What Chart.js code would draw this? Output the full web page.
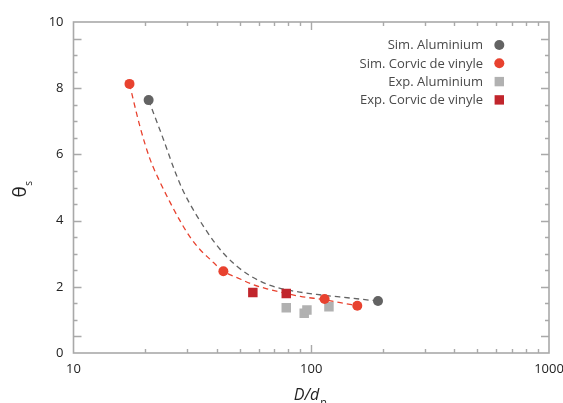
<!DOCTYPE html>
<html><head><meta charset="utf-8">
<script src="https://cdn.jsdelivr.net/npm/chart.js@4.4.1/dist/chart.umd.min.js"></script>
<style>html,body{margin:0;padding:0;background:#fff}#wrap{width:563px;height:403px;position:relative}</style>
</head><body><div id="wrap"><canvas id="c"></canvas></div>
<script>
// ---- data ----
const simAluX = [20.7, 190.9];
const simAluY = [7.64, 1.57];
const simPvcX = [17.2, 42.7, 113.8, 156.2];
const simPvcY = [8.13, 2.47, 1.63, 1.43];
const expAluX = [78.5, 93.4, 95.9, 118.7];
const expAluY = [1.37, 1.20, 1.30, 1.40];
const expPvcX = [56.8, 78.5];
const expPvcY = [1.83, 1.80];
// dashed trend curves
const fitAluX = [20.7, 23.9, 26.8, 29.0, 32.5, 35.8, 39.4, 43.4, 48.7, 55.4, 65.1, 79.0, 105.6, 146, 190.9];
const fitAluY = [7.64, 6.45, 5.46, 4.88, 4.23, 3.75, 3.32, 2.96, 2.62, 2.33, 2.08, 1.91, 1.77, 1.66, 1.57];
const fitPvcX = [17.2, 19.05, 21.0, 23.13, 25.49, 28.08, 30.94, 34.09, 37.55, 42.7, 48.7, 57.2, 65.1, 89.9, 113.8, 132.5, 156.2];
const fitPvcY = [8.13, 6.83, 5.85, 5.16, 4.55, 3.99, 3.50, 3.12, 2.83, 2.47, 2.28, 2.06, 1.94, 1.71, 1.61, 1.52, 1.43];
const seriesLabels = ['Sim. Aluminium', 'Sim. Corvic de vinyle', 'Exp. Aluminium', 'Exp. Corvic de vinyle'];
// axis ticks
const xTickLabels = [10, 100, 1000];
const xMajorMarks = [100];
const xMinorMarks = [20, 30, 40, 50, 60, 70, 80, 90, 200, 300, 400, 500, 600, 700, 800, 900];
const yTickLabels = [0, 2, 4, 6, 8, 10];
const yMajorMarks = [0.5, 2, 4, 6, 8, 9.5];
const yMinorMarks = [1, 1.5, 2.5, 3, 3.5, 4.5, 5, 5.5, 6.5, 7, 7.5, 8.5, 9];

const pts = (xs, ys) => xs.map((x, i) => ({x, y: ys[i]}));
const C_GRAY = '#636363', C_RED = '#e8422f', C_LGRAY = '#b1b1b1', C_DRED = '#c1252c';
const FONT = "'Open Sans', sans-serif";

const frameTicks = {
  id: 'frameTicks',
  afterDatasetsDraw(chart) {
    const {ctx, chartArea: a, scales: {x, y}} = chart;
    ctx.save();
    ctx.strokeStyle = '#a9a9a9';
    ctx.lineWidth = 1.4;
    ctx.beginPath();
    for (const v of xMajorMarks.concat(xMinorMarks)) {
      const len = xMajorMarks.includes(v) ? 8 : 4;
      const px = Math.round(x.getPixelForValue(v)) + 0.5;
      ctx.moveTo(px, a.bottom); ctx.lineTo(px, a.bottom - len);
      ctx.moveTo(px, a.top); ctx.lineTo(px, a.top + len);
    }
    for (const v of yMajorMarks.concat(yMinorMarks)) {
      const len = yMajorMarks.includes(v) ? 8 : 4;
      const py = Math.round(y.getPixelForValue(v)) + 0.5;
      ctx.moveTo(a.left, py); ctx.lineTo(a.left + len, py);
      ctx.moveTo(a.right, py); ctx.lineTo(a.right - len, py);
    }
    ctx.stroke();
    ctx.lineWidth = 1.6;
    ctx.strokeRect(a.left, a.top, a.right - a.left, a.bottom - a.top);
    ctx.restore();
  }
};

const titlesLegend = {
  id: 'titlesLegend',
  afterDraw(chart) {
    const {ctx, chartArea: a, scales: {x}} = chart;
    ctx.save();
    // y title θs
    ctx.fillStyle = '#222';
    ctx.translate(26, 197.5);
    ctx.rotate(-Math.PI / 2);
    ctx.textAlign = 'left';
    ctx.textBaseline = 'alphabetic';
    ctx.font = `19px ${FONT}`;
    ctx.fillText('θ', 0, 0);
    const w = ctx.measureText('θ').width;
    ctx.font = `10px ${FONT}`;
    ctx.fillText('s', w + 0.5, 6);
    ctx.restore();
    // x title D/dn
    ctx.save();
    ctx.fillStyle = '#222';
    ctx.textBaseline = 'alphabetic';
    ctx.textAlign = 'left';
    ctx.font = `italic 16px ${FONT}`;
    const t = 'D/d';
    const tw = ctx.measureText(t).width;
    const sx = x.getPixelForValue(100) - 17.5;
    ctx.fillText(t, sx, 400);
    ctx.font = `11px ${FONT}`;
    ctx.fillText('n', sx + tw + 1, 406);
    ctx.restore();
    // legend
    ctx.save();
    const ds = chart.data.datasets.filter(d => d.inLegend);
    ctx.font = `13px ${FONT}`;
    ctx.textAlign = 'right';
    ctx.textBaseline = 'middle';
    ds.forEach((d, i) => {
      const yy = a.top + 23 + i * 18.3;
      ctx.fillStyle = '#4a4a4a';
      ctx.fillText(d.label, a.right - 66, yy + 0.5);
      ctx.fillStyle = d.backgroundColor;
      const mx = a.right - 49.7;
      if (d.pointStyle === 'rect') {
        ctx.fillRect(mx - 4.7, yy - 4.7, 9.4, 9.4);
      } else {
        ctx.beginPath(); ctx.arc(mx, yy, 5, 0, Math.PI * 2); ctx.fill();
      }
    });
    ctx.restore();
  }
};

new Chart(document.getElementById('c'), {
  type: 'scatter',
  data: {
    datasets: [
      {label: seriesLabels[0], inLegend: true, data: pts(simAluX, simAluY), backgroundColor: C_GRAY, borderColor: C_GRAY, pointStyle: 'circle', pointRadius: 5, pointBorderWidth: 0, order: 1},
      {label: seriesLabels[1], inLegend: true, data: pts(simPvcX, simPvcY), backgroundColor: C_RED, borderColor: C_RED, pointStyle: 'circle', pointRadius: 5, pointBorderWidth: 0, order: 1},
      {label: seriesLabels[2], inLegend: true, data: pts(expAluX, expAluY), backgroundColor: C_LGRAY, borderColor: C_LGRAY, pointStyle: 'rect', pointRadius: 6.7, pointBorderWidth: 0, order: 2},
      {label: seriesLabels[3], inLegend: true, data: pts(expPvcX, expPvcY), backgroundColor: C_DRED, borderColor: C_DRED, pointStyle: 'rect', pointRadius: 6.7, pointBorderWidth: 0, order: 1},
      {label: 'fitAlu', data: pts(fitAluX, fitAluY), showLine: true, borderColor: C_GRAY, borderWidth: 1.3, borderDash: [5.5, 4], pointRadius: 0, cubicInterpolationMode: 'monotone', order: 5},
      {label: 'fitPvc', data: pts(fitPvcX, fitPvcY), showLine: true, borderColor: C_RED, borderWidth: 1.3, borderDash: [5.5, 4], pointRadius: 0, cubicInterpolationMode: 'monotone', order: 5}
    ]
  },
  options: {
    responsive: true,
    maintainAspectRatio: false,
    animation: false,
    events: [],
    layout: {padding: {left: 0, right: 14, top: 22, bottom: 0}},
    plugins: {legend: {display: false}, tooltip: {enabled: false}},
    scales: {
      x: {
        type: 'logarithmic', min: 10, max: 1000,
        afterBuildTicks: s => { s.ticks = xTickLabels.map(v => ({value: v})); },
        afterFit: s => { s.height = 50; s.paddingLeft = 0; s.paddingRight = 0; },
        grid: {display: false, drawTicks: false},
        border: {display: false},
        ticks: {autoSkip: false, maxRotation: 0, padding: 8, color: '#222', font: {family: FONT, size: 13}, callback: v => String(v)}
      },
      y: {
        min: 0, max: 10,
        afterBuildTicks: s => { s.ticks = yTickLabels.map(v => ({value: v})); },
        afterFit: s => { s.width = 73.5; s.paddingTop = 0; s.paddingBottom = 0; },
        grid: {display: false, drawTicks: false},
        border: {display: false},
        ticks: {padding: 10, color: '#222', font: {family: FONT, size: 13}}
      }
    }
  },
  plugins: [frameTicks, titlesLegend]
});
</script>
</body></html>
